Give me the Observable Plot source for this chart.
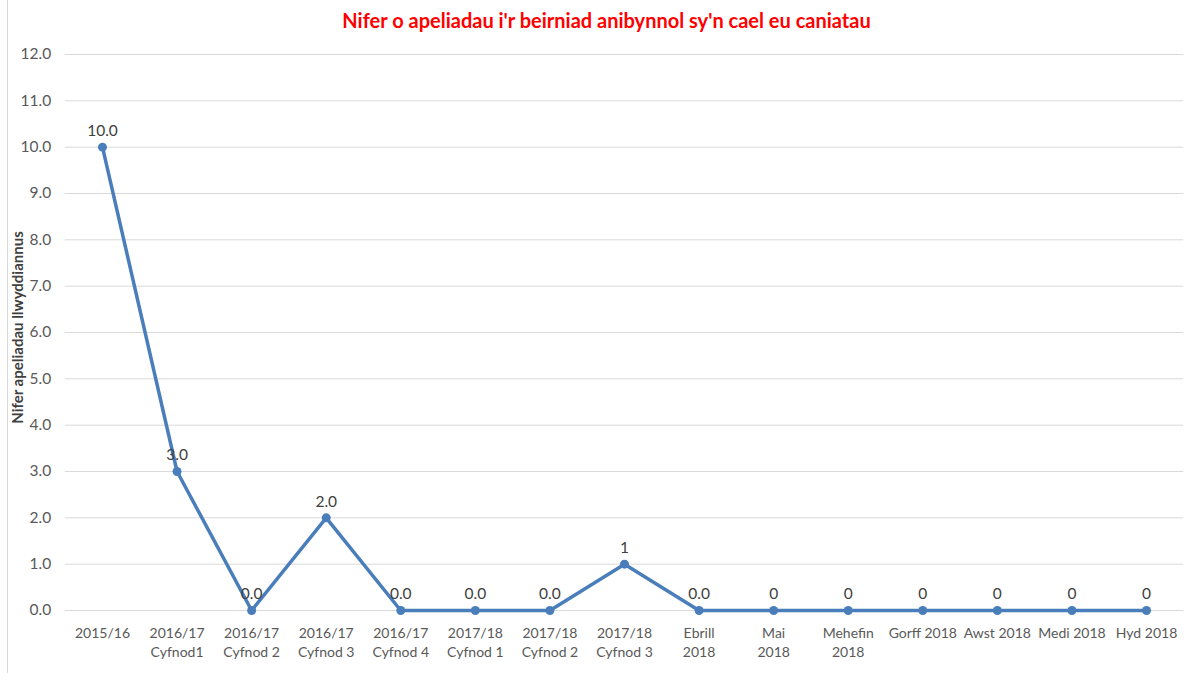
<!DOCTYPE html>
<html>
<head>
<meta charset="utf-8">
<script src="https://cdn.jsdelivr.net/npm/d3@7"></script>
<script src="https://cdn.jsdelivr.net/npm/@observablehq/plot@0.6"></script>
<style>
  html, body { margin: 0; padding: 0; background: #fff; }
  #wrap { position: relative; width: 1203px; height: 673px; overflow: hidden; font-family: Lato, "Open Sans", sans-serif; }
  #edge { position: absolute; left: 7px; top: 0; width: 1px; height: 673px; background: #d9d9d9; }
  #title { height: 40px; line-height: 40px; text-align: center; color: #ff0000; font-weight: bold; font-size: 20px; padding-left: 10px; }
  svg { display: block; }
</style>
</head>
<body>
<div id="wrap">
  <div id="edge"></div>
  <div id="title">Nifer o apeliadau i'r beirniad anibynnol sy'n cael eu caniatau</div>
  <div id="chart"></div>
</div>
<script>
const categories = [
  "2015/16", "2016/17\nCyfnod1", "2016/17\nCyfnod 2", "2016/17\nCyfnod 3", "2016/17\nCyfnod 4",
  "2017/18\nCyfnod 1", "2017/18\nCyfnod 2", "2017/18\nCyfnod 3", "Ebrill\n2018", "Mai\n2018",
  "Mehefin\n2018", "Gorff 2018", "Awst 2018", "Medi 2018", "Hyd 2018"
];
const values = [10, 3, 0, 2, 0, 0, 0, 1, 0, 0, 0, 0, 0, 0, 0];
const valueLabels = ["10.0", "3.0", "0.0", "2.0", "0.0", "0.0", "0.0", "1", "0.0", "0", "0", "0", "0", "0", "0"];
const yTicks = [0, 1, 2, 3, 4, 5, 6, 7, 8, 9, 10, 11, 12];
const yTitle = "Nifer apeliadau llwyddiannus";

const data = categories.map((c, i) => ({cat: c, value: values[i], label: valueLabels[i]}));

const lineColor = "#4a7ebb";
const textColor = "#595959";

const chart = Plot.plot({
  width: 1203,
  height: 633,
  marginLeft: 64.7,
  marginRight: 19.7,
  marginTop: 14,
  marginBottom: 63,
  style: { fontFamily: "Lato, 'Open Sans', sans-serif", fontSize: "14px", color: textColor, background: "#fff" },
  x: { type: "point", domain: categories, padding: 0.5, round: false },
  y: { domain: [0, 12] },
  marks: [
    Plot.gridY(yTicks, { stroke: "#d9d9d9", strokeOpacity: 1, strokeWidth: 1 }),
    Plot.axisY(yTicks, {
      tickSize: 0, tickPadding: 14, tickFormat: d3.format(".1f"),
      label: null, fill: textColor, fontSize: 15.5
    }),
    Plot.text([yTitle], {
      frameAnchor: "left", textAnchor: "middle", rotate: -90, dx: -47, dy: -5,
      fontWeight: "bold", fontSize: 15, fill: "#404040"
    }),
    Plot.axisX({ tickSize: 0, tickPadding: 14, label: null, fill: textColor, lineHeight: 1.35 }),
    Plot.line(data, { x: "cat", y: "value", stroke: lineColor, strokeWidth: 3.5 }),
    Plot.dot(data, { x: "cat", y: "value", fill: lineColor, r: 4.5 }),
    Plot.text(data, { x: "cat", y: "value", text: "label", dy: -16, fill: "#404040", fontSize: 15.5 })
  ]
});
document.getElementById("chart").appendChild(chart);
</script>
</body>
</html>
